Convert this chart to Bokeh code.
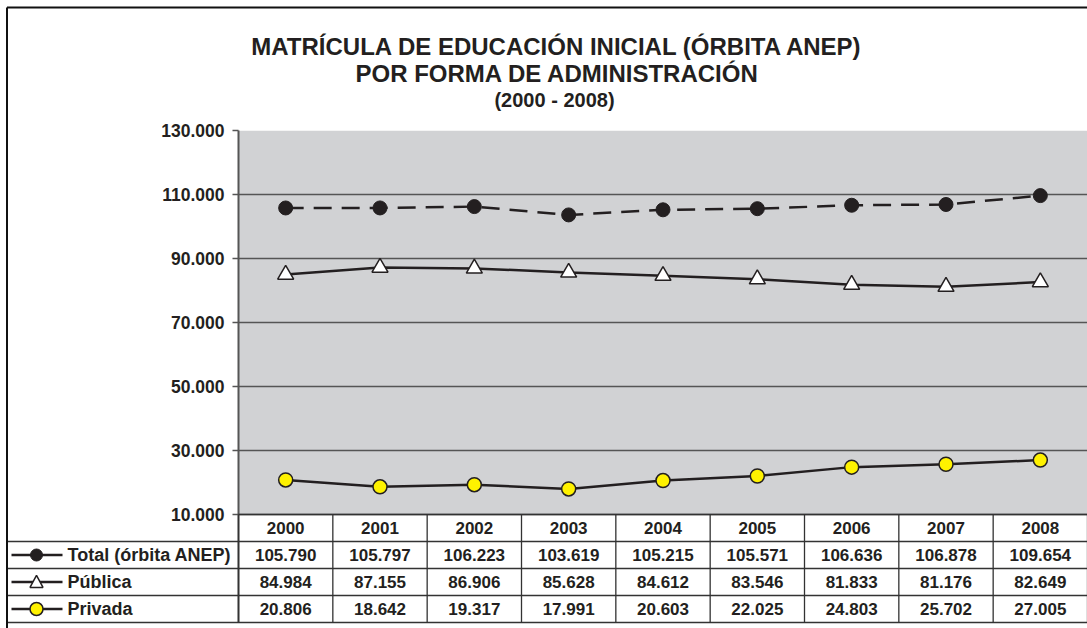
from bokeh.plotting import figure
from bokeh.models import Range1d, LinearScale, FixedTicker, BoxAnnotation
from bokeh.core.properties import value
from bokeh.embed import file_html
from bokeh.resources import INLINE

# ---------------- data ----------------
years = ["2000", "2001", "2002", "2003", "2004", "2005", "2006", "2007", "2008"]
total = [105790, 105797, 106223, 103619, 105215, 105571, 106636, 106878, 109654]
publica = [84984, 87155, 86906, 85628, 84612, 83546, 81833, 81176, 82649]
privada = [20806, 18642, 19317, 17991, 20603, 22025, 24803, 25702, 27005]
series_names = ["Total (órbita ANEP)", "Pública", "Privada"]
y_ticks = [10000, 30000, 50000, 70000, 90000, 110000, 130000]
title_lines = ["MATRÍCULA DE EDUCACIÓN INICIAL (ÓRBITA ANEP)",
               "POR FORMA DE ADMINISTRACIÓN",
               "(2000 - 2008)"]

# ---------------- layout (pixels) ----------------
W, H = 1087, 628
LEFT, TOP = 238, 130
PLOT_H = 384
ROW_H = 27
N_ROWS = 4
BOTTOM = H - TOP - PLOT_H - N_ROWS * ROW_H
FW = W - LEFT
COL_PX = FW / len(years)

FONT = "Liberation Sans"
INK = "#231f20"
GRID = "#555555"
YELLOW = "#fff200"


def fmt(v):
    return f"{v:,}".replace(",", ".")


def ux(cx):
    return (cx - LEFT) / COL_PX


def uy(cy):
    return (TOP + PLOT_H + N_ROWS * ROW_H - cy) / ROW_H


# category centres on the x scale (one unit per year)
xs = [i + 0.5 for i in range(len(years))]

y_lo, y_hi = y_ticks[0], y_ticks[-1]
per_px = (y_hi - y_lo) / PLOT_H
y_start = y_lo - N_ROWS * ROW_H * per_px

p = figure(width=W, height=H, title=None,
           x_range=Range1d(0, len(years)), y_range=Range1d(y_start, y_hi),
           x_axis_location=None, toolbar_location=None, output_backend="svg",
           min_border_left=LEFT, min_border_right=0, min_border_top=TOP,
           min_border_bottom=BOTTOM)
p.extra_y_ranges = {"tbl": Range1d(0, (PLOT_H + N_ROWS * ROW_H) / ROW_H)}
p.extra_y_scales = {"tbl": LinearScale()}
p.outline_line_color = None
p.background_fill_color = "white"
p.border_fill_color = "white"

# plot area background
p.add_layout(BoxAnnotation(bottom=y_lo, top=y_hi, fill_color="#d1d2d4",
                           fill_alpha=1, line_color=None, level="image"))

# grid
p.xgrid.visible = False
p.ygrid.ticker = FixedTicker(ticks=y_ticks)
p.ygrid.grid_line_color = GRID
p.ygrid.grid_line_width = 1.5

# y axis
ax = p.yaxis[0]
ax.ticker = FixedTicker(ticks=y_ticks)
ax.major_label_overrides = {t: fmt(t) for t in y_ticks}
ax.axis_line_color = GRID
ax.axis_line_width = 2
ax.major_tick_line_color = GRID
ax.major_tick_line_width = 1.5
ax.major_tick_out = 6
ax.major_tick_in = 0
ax.minor_tick_line_color = None
ax.major_label_standoff = 8
ax.major_label_text_font = FONT
ax.major_label_text_font_style = "bold"
ax.major_label_text_font_size = "17.5px"
ax.major_label_text_color = INK

# ---------------- series ----------------
p.line(xs, total, line_color=INK, line_width=2.5, line_dash="18 10")
p.scatter(xs, total, marker="circle", size=14, fill_color=INK, line_color=INK)
p.line(xs, publica, line_color=INK, line_width=2.5)
p.scatter(xs, publica, marker="triangle", size=16, fill_color="white",
          line_color=INK, line_width=1.5)
p.line(xs, privada, line_color=INK, line_width=2.5)
p.scatter(xs, privada, marker="circle", size=14, fill_color=YELLOW,
          line_color=INK, line_width=1.5)

# ---------------- data table ----------------
h_y = list(range(N_ROWS))
p.segment(x0=[ux(6)] * len(h_y), x1=[ux(W)] * len(h_y), y0=h_y, y1=h_y,
          y_range_name="tbl", line_color="#333333", line_width=1.3,
          level="overlay")
p.segment(x0=[0], x1=[len(years)], y0=[N_ROWS], y1=[N_ROWS],
          y_range_name="tbl", line_color="#333333", line_width=1.5,
          level="overlay")
v_x = list(range(len(years) + 1))
p.segment(x0=v_x, x1=v_x, y0=[0] * len(v_x), y1=[N_ROWS] * len(v_x),
          y_range_name="tbl", line_color="#333333", line_width=1.3,
          level="overlay")

# header years
p.text(x=xs, y=[N_ROWS - 0.5] * len(years), text=years, y_range_name="tbl",
       text_align="center", text_baseline="middle", text_font=value(FONT),
       text_font_style="bold", text_font_size="17px", text_color=INK)

# value cells
tx, ty, tt = [], [], []
for r, vals in enumerate([total, publica, privada]):
    for xc, v in zip(xs, vals):
        tx.append(xc)
        ty.append(N_ROWS - 1.5 - r)
        tt.append(fmt(v))
p.text(x=tx, y=ty, text=tt, y_range_name="tbl", text_align="center",
       text_baseline="middle", text_font=value(FONT), text_font_style="bold",
       text_font_size="17px", text_color=INK)

# row labels with legend keys
row_y = [N_ROWS - 1.5 - r for r in range(len(series_names))]
KEY_X0, KEY_X1, KEY_C, LABEL_X = 11, 62, 36, 67
p.segment(x0=[ux(KEY_X0)] * 3, x1=[ux(KEY_X1)] * 3, y0=row_y, y1=row_y,
          y_range_name="tbl", line_color=INK, line_width=2.5, level="overlay")
p.ellipse(x=[ux(KEY_C)], y=[row_y[0]], width=12, height=12,
          width_units="screen", height_units="screen", fill_color=INK,
          line_color=INK, y_range_name="tbl", level="overlay")
p.ellipse(x=[ux(KEY_C)], y=[row_y[2]], width=13, height=13,
          width_units="screen", height_units="screen", fill_color=YELLOW,
          line_color=INK, line_width=1.5, y_range_name="tbl", level="overlay")
# triangle key drawn as a small patch around the key centre
tri_h = 12 / ROW_H
tri_w = 6.5 / COL_PX
p.patch(x=[ux(KEY_C) - tri_w, ux(KEY_C) + tri_w, ux(KEY_C)],
        y=[row_y[1] - tri_h * 0.45, row_y[1] - tri_h * 0.45, row_y[1] + tri_h * 0.55],
        fill_color="white", line_color=INK, line_width=1.5,
        y_range_name="tbl", level="overlay")
p.text(x=[ux(LABEL_X)] * 3, y=row_y, text=series_names, y_range_name="tbl",
       text_align="left", text_baseline="middle", text_font=value(FONT),
       text_font_style="bold", text_font_size="18px", text_color=INK,
       level="overlay")

# outer chart border (left and top visible)
p.segment(x0=[ux(6.5), ux(6.5)], x1=[ux(6.5), ux(W)], y0=[uy(H), uy(7)],
          y1=[uy(7), uy(7)], y_range_name="tbl",
          line_color="#111111", line_width=2, level="overlay")

# titles
p.text(x=[ux(557), ux(557), ux(554)], y=[uy(46), uy(73), uy(99)], text=title_lines,
       y_range_name="tbl", text_align="center", text_baseline="alphabetic",
       text_font=value(FONT), text_font_style="bold",
       text_font_size=["24px", "24px", "20px"], text_color=INK, level="overlay")

open("out.html", "w").write(file_html(p, INLINE))
